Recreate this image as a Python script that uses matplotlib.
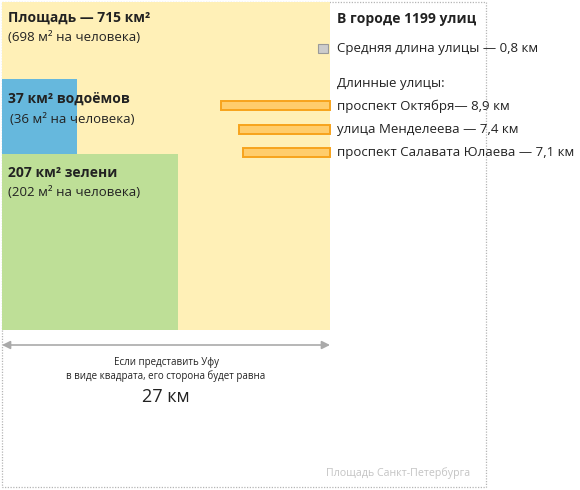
import matplotlib
matplotlib.use("Agg")
import matplotlib.pyplot as plt
from matplotlib.patches import Rectangle

# ─── Data ────────────────────────────────────────────────────────────────────
city_area = 715          # км²
city_per_person = 698    # м² на человека
water_area = 37
water_per_person = 36
green_area = 207
green_per_person = 202
city_side = 27           # км
street_count = 1199
avg_street_len = 0.8
streets = ["проспект Октября", "улица Менделеева", "проспект Салавата Юлаева"]
street_len = [8.9, 7.4, 7.1]

# ─── Layout (pixels -> km) ───────────────────────────────────────────────────
W, H = 580, 490
x0, y0 = 2, 2            # top-left of the Ufa square, px
side_px = 328
side = city_area ** 0.5
s = side_px / side       # px per km

plt.rcParams["font.family"] = ["Open Sans", "DejaVu Sans"]
fig = plt.figure(figsize=(W / 100, H / 100), dpi=100)
ax = fig.add_axes([0, 0, 1, 1])
ax.set_xlim(-x0 / s, (W - x0) / s)
ax.set_ylim((H - y0) / s, -y0 / s)
ax.axis("off")


def px(x, y):
    return (x - x0) / s, (y - y0) / s


# St. Petersburg outline (dotted)
bx, by = px(2, 2)
ax.add_patch(Rectangle((bx, by), 484 / s, 485 / s, fill=False,
                       edgecolor="#b5b5b5", linestyle=(0, (1, 1.2)), lw=0.9))

# Ufa square
ax.add_patch(Rectangle((0, 0), side, side, facecolor="#fff0b7", edgecolor="none"))
g = green_area ** 0.5
w = water_area ** 0.5
ax.add_patch(Rectangle((0, side - g), g, g, facecolor="#bedf97", edgecolor="none"))
ax.add_patch(Rectangle((0, side - g - w), w, w, facecolor="#66b8dd", edgecolor="none"))

# streets
bar_y = [px(0, 106)[1], px(0, 129.5)[1], px(0, 152.5)[1]]
ax.barh(bar_y, street_len, left=[side - v for v in street_len], height=9 / s,
        color="#ffcd6c", edgecolor="#f7a31c", linewidth=1.4)
ax.add_patch(Rectangle((side - avg_street_len - 0.15, px(0, 44)[1]),
                       avg_street_len, 9.5 / s,
                       facecolor="#cccccc", edgecolor="#9a9a9a", lw=0.8))

dark = "#222222"
reg = 9.5
# left labels
ax.text(*px(8, 18), f"Площадь — {city_area} км²", fontsize=10, fontweight="bold",
        color=dark, va="center")
ax.text(*px(8, 38), f"({city_per_person} м² на человека)", fontsize=reg,
        color=dark, va="center")
ax.text(*px(8, 99), f"{water_area} км² водоёмов", fontsize=10, fontweight="bold",
        color=dark, va="center")
ax.text(*px(10, 120), f"({water_per_person} м² на человека)", fontsize=reg,
        color=dark, va="center")
ax.text(*px(8, 173), f"{green_area} км² зелени", fontsize=10, fontweight="bold",
        color=dark, va="center")
ax.text(*px(8, 193), f"({green_per_person} м² на человека)", fontsize=reg,
        color=dark, va="center")

# right labels
tx = 337
ax.text(*px(tx, 19), f"В городе {street_count} улиц", fontsize=10, fontweight="bold",
        color=dark, va="center")
ax.text(*px(tx, 49), f"Средняя длина улицы — {avg_street_len:.1f} км".replace(".", ","),
        fontsize=reg, color=dark, va="center")
ax.text(*px(tx, 84), "Длинные улицы:", fontsize=reg, color=dark, va="center")
seps = ["— ", " — ", " — "]
for name, v, sep, yy in zip(streets, street_len, seps, [106, 129.5, 153]):
    ax.text(*px(tx, yy), f"{name}{sep}{v:.1f} км".replace(".", ","),
            fontsize=reg, color=dark, va="center")

# side arrow
ax.annotate("", xy=(0, px(0, 345)[1]), xytext=(side, px(0, 345)[1]),
            arrowprops=dict(arrowstyle="<|-|>", color="#aaaaaa", lw=1.2,
                            mutation_scale=12, shrinkA=0, shrinkB=0))
cx = side / 2
ax.text(cx, px(0, 362)[1], "Если представить Уфу", fontsize=7, color=dark,
        ha="center", va="center")
ax.text(cx, px(0, 376)[1], "в виде квадрата, его сторона будет равна", fontsize=7,
        color=dark, ha="center", va="center")
ax.text(cx, px(0, 397)[1], f"{city_side} км", fontsize=13, color=dark,
        ha="center", va="center")

ax.text(*px(470, 473), "Площадь Санкт-Петербурга", fontsize=7.7, color="#c4c4c4",
        ha="right", va="center")

fig.savefig("out.png", dpi=100)
